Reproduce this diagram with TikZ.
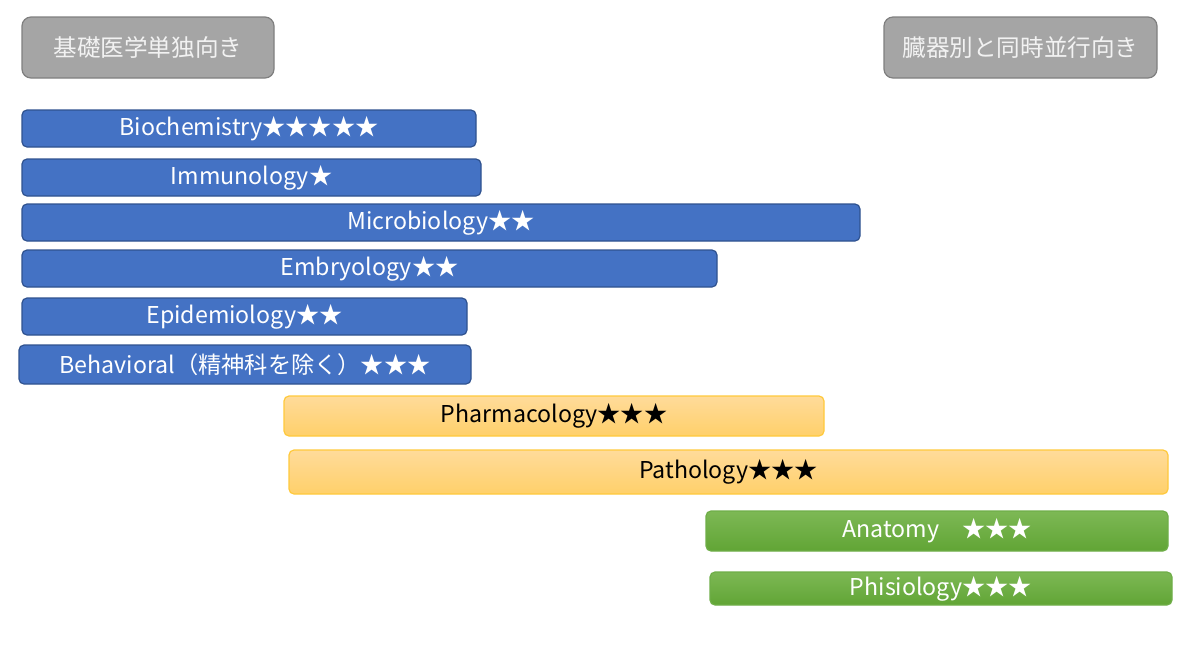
\documentclass[tikz,border=0pt]{standalone}
\usepackage{fontspec}
\setmainfont{Noto Sans CJK JP}
\usetikzlibrary{positioning}

\definecolor{barblue}{HTML}{4472C4}
\definecolor{barblueline}{HTML}{2F528F}
\definecolor{headgray}{HTML}{A5A5A5}
\definecolor{headgrayline}{HTML}{7F7F7F}
\definecolor{ambertop}{HTML}{FFDB9A}
\definecolor{amberbot}{HTML}{FFD06A}
\definecolor{amberline}{HTML}{FFC93C}
\definecolor{leaftop}{HTML}{7DB855}
\definecolor{leafbot}{HTML}{61A535}
\definecolor{leafline}{HTML}{6FAE48}

\begin{document}
\begin{tikzpicture}[
  x=0.5pt,
  y=-0.5pt,
  inner sep=0pt,
  outer sep=0pt,
  every node/.append style={
    font=\fontsize{11.6}{13}\selectfont,
  },
  bar/.style={
    rectangle,
    rounded corners=2.5pt,
    line width=0.6pt,
  },
  bluebar/.style={bar, fill=barblue, draw=barblueline, text=white},
  amberbar/.style={bar, top color=ambertop, bottom color=amberbot,
    draw=amberline, text=black},
  leafbar/.style={bar, top color=leaftop, bottom color=leafbot,
    draw=leafline, text=white},
  headbox/.style={bar, rounded corners=4.5pt, fill=headgray,
    draw=headgrayline, text=white!95!black,
    font=\fontsize{11.8}{13}\selectfont},
]
  \useasboundingbox (0, 0) rectangle (1200, 650);
  % every bar: name / left / right / top / bottom / style / text
  \foreach \name/\l/\r/\t/\b/\kind/\txt in {
    basic/22/274/17/78/headbox/基礎医学単独向き,
    organ/884/1157/17/78/headbox/臓器別と同時並行向き,
    biochem/22/476/110/147/bluebar/Biochemistry★★★★★,
    immuno/22/481/159/196/bluebar/Immunology★,
    micro/22/860/204/241/bluebar/Microbiology★★,
    embryo/22/717/250/287/bluebar/Embryology★★,
    epidem/22/467/298/335/bluebar/Epidemiology★★,
    behav/19/471/345/384/bluebar/Behavioral（精神科を除く）★★★,
    pharma/284/824/396/436/amberbar/Pharmacology★★★,
    patho/289/1168/450/494/amberbar/Pathology★★★,
    anat/706/1168/511/551/leafbar/Anatomy　★★★,
    physio/710/1172/572/605/leafbar/Phisiology★★★%
  } {
    \node[\kind,
      minimum width={(\r-\l)*0.5pt},
      minimum height={(\b-\t)*0.5pt},
    ] (\name) at ({(\l+\r)/2}, {(\t+\b)/2}) {\txt};
  }
\end{tikzpicture}
\end{document}
